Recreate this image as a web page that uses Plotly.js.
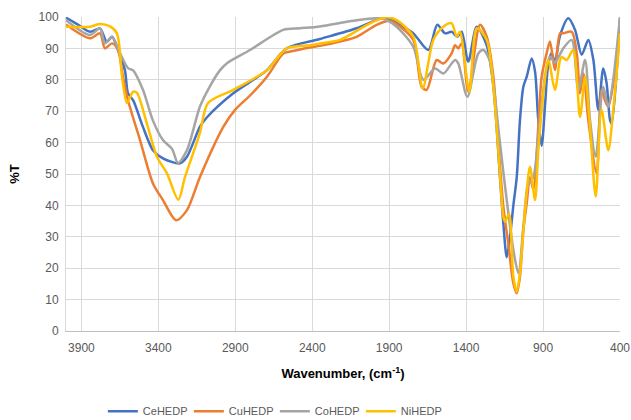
<!DOCTYPE html>
<html>
<head>
<meta charset="utf-8">
<script src="https://cdn.plot.ly/plotly-3.0.1.min.js"></script>
<style>html,body{margin:0;padding:0;background:#fff;}#chart{width:631px;height:420px;}</style>
</head>
<body>
<div id="chart"></div>
<script>
// Wavenumber (cm-1) and %T values
const ceX = [4000,3920,3844,3779,3734,3701,3662,3617,3597,3564,3500,3435,3370,3259,3214,3130,3085,2913,2696,2566,2350,2111,1960,1895,1830,1743,1646,1587,1537,1494,1457,1429,1386,1331,1266,1223,1180,1158,1136,1115,1093,1071,1050,1028,1006,974,952,931,909,887,866,844,823,790,736,692,649,606,573,541,509,487,465,454,400];
const ceY = [99.8,97.5,95.3,96.3,92.0,93.7,89.5,83.0,75.7,73.5,65.0,57.6,55.0,53.4,55.5,65.0,68.0,75.7,83.0,90.0,93.0,96.4,99.4,99.4,97.5,94.8,89.5,97.5,94.8,95.3,93.7,95.3,85.8,96.9,91.0,78.0,49.0,34.3,23.5,30.0,40.0,49.0,67.2,77.8,81.0,86.8,82.6,67.2,59.0,72.0,85.0,88.5,85.5,94.0,99.6,95.9,88.0,92.7,86.3,70.4,83.6,78.9,67.2,66.0,99.6];

const cuX = [4000,3844,3779,3747,3701,3662,3630,3597,3519,3435,3370,3285,3214,3130,2978,2900,2804,2694,2588,2544,2414,2350,2220,2111,1981,1895,1830,1743,1689,1656,1591,1548,1494,1472,1451,1429,1386,1310,1266,1223,1191,1158,1126,1093,1071,1050,1028,1006,985,963,931,909,877,855,823,790,769,714,680,660,638,606,552,520,498,476,440,400];
const cuY = [97.6,93.2,94.8,90.0,91.6,89.5,81.0,73.5,60.8,47.0,41.7,35.3,38.5,49.0,65.0,70.5,75.0,81.0,88.4,89.0,90.3,90.8,92.2,93.7,97.5,98.8,97.0,92.7,77.8,76.8,86.3,85.2,88.4,91.0,90.0,91.6,76.2,97.5,93.7,81.0,59.7,39.6,27.9,15.2,12.0,17.3,32.2,40.7,49.0,45.0,65.0,81.0,88.4,92.2,83.1,94.8,94.8,95.3,88.0,75.7,82.0,67.2,50.2,76.8,73.5,71.4,80.0,95.0];

const coX = [4000,3844,3779,3747,3701,3649,3597,3564,3500,3435,3370,3311,3272,3214,3130,3064,3000,2954,2804,2588,2480,2350,2111,1960,1917,1851,1743,1678,1602,1548,1494,1472,1451,1392,1321,1288,1245,1223,1180,1136,1093,1060,1028,996,963,931,887,855,823,769,714,671,627,595,558,509,476,400];
const coY = [99.0,94.3,96.4,91.6,93.7,88.5,83.7,83.0,76.8,67.0,60.8,58.0,53.5,57.6,71.4,78.0,83.0,85.3,89.5,95.9,96.4,97.0,99.0,99.6,99.0,96.9,90.5,80.0,83.6,82.0,85.2,86.3,85.2,74.6,88.4,89.5,86.0,79.0,59.8,41.7,25.8,18.4,33.2,47.0,49.0,62.0,81.0,87.4,85.5,90.0,92.7,76.8,86.3,67.2,55.5,77.8,71.4,100.0];

const niX = [4000,3844,3779,3714,3669,3636,3604,3564,3539,3474,3409,3344,3270,3227,3130,3077,2913,2696,2566,2414,2350,2220,2025,1917,1851,1743,1682,1613,1548,1494,1461,1440,1379,1331,1266,1223,1191,1158,1147,1121,1093,1071,1050,1017,985,952,931,898,866,823,790,779,747,704,660,627,595,558,520,476,444,400];
const niY = [96.9,96.9,97.8,97.0,94.8,81.0,72.6,76.2,75.8,66.0,55.5,50.2,41.8,49.0,63.0,72.6,76.8,83.0,90.0,91.0,91.6,92.7,98.0,99.9,99.0,93.7,77.3,92.7,96.9,98.0,93.7,95.3,76.2,96.4,92.7,77.8,57.6,36.4,34.8,37.3,17.3,12.5,18.5,38.5,52.3,41.7,57.6,75.7,86.3,76.8,86.3,87.3,86.3,89.5,68.2,81.0,65.0,42.8,70.4,57.6,70.4,94.8];

const seriesNames = ['CeHEDP','CuHEDP','CoHEDP','NiHEDP'];
const seriesColors = ['#4472C4','#ED7D31','#A5A5A5','#FFC000'];
const xTicks = [3900,3400,2900,2400,1900,1400,900,400];
const yTicks = [0,10,20,30,40,50,60,70,80,90,100];

const xs = [ceX, cuX, coX, niX];
const ys = [ceY, cuY, coY, niY];

const traces = seriesNames.map((n,i) => ({
  x: xs[i], y: ys[i], name: n, type: 'scatter', mode: 'lines',
  line: {color: seriesColors[i], width: 2.5, shape: 'spline', smoothing: 0.8}
}));

const fam = 'Liberation Sans, Arial, sans-serif';

const layout = {
  width: 631, height: 420,
  margin: {l: 66, r: 11, t: 17, b: 89},
  paper_bgcolor: '#fff', plot_bgcolor: '#fff',
  font: {family: fam, size: 12, color: '#595959'},
  showlegend: true,
  legend: {orientation: 'h', xref: 'container', yref: 'container', x: 0.163, xanchor: 'left', y: 0.021, yanchor: 'middle',
           entrywidth: 41, entrywidthmode: 'pixels',
           font: {family: fam, size: 11, color: '#595959'}, traceorder: 'normal'},
  xaxis: {
    range: [4000, 400], tickvals: xTicks, ticktext: xTicks.map(String),
    showgrid: true, gridcolor: '#D9D9D9', gridwidth: 1,
    showline: true, linecolor: '#BFBFBF', linewidth: 1,
    zeroline: false, ticks: '', automargin: false, ticklabelstandoff: 6,
    tickfont: {family: fam, size: 12, color: '#595959'},
    title: {text: '<b>Wavenumber, (cm<sup>-1</sup>)</b>', font: {family: fam, size: 13, color: '#000'}, standoff: 14}
  },
  yaxis: {
    range: [0, 100], tickvals: yTicks,
    showgrid: true, gridcolor: '#D9D9D9', gridwidth: 1,
    showline: true, linecolor: '#D9D9D9', linewidth: 1,
    zeroline: false, ticks: '', automargin: false, ticklabelstandoff: 4,
    tickfont: {family: fam, size: 12, color: '#595959'},
    title: {text: '<b>%T</b>', font: {family: fam, size: 13, color: '#000'}, standoff: 16}
  }
};

Plotly.newPlot('chart', traces, layout, {displayModeBar: false, staticPlot: true});
</script>
</body>
</html>
